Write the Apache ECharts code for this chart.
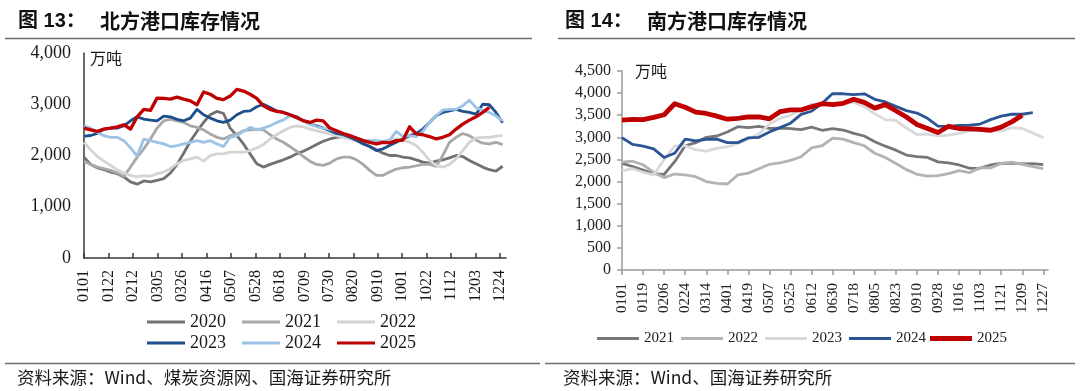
<!DOCTYPE html>
<html><head><meta charset="utf-8">
<script src="https://cdn.jsdelivr.net/npm/echarts@6/dist/echarts.min.js"></script>
<style>
html,body{margin:0;padding:0;background:#fff;width:1080px;height:391px;overflow:hidden}
#l{position:absolute;left:0;top:0;width:540px;height:391px}
#r{position:absolute;left:540px;top:0;width:540px;height:391px}
</style>
</head><body><div id="l"></div><div id="r"></div>
<script>
// ---------- Left chart: 北方港口库存 (万吨), sampled every ~5.7 days ----------
const LEFT_TICK_LABELS = ['0101','0122','0212','0305','0326','0416','0507','0528','0618','0709','0730','0820','0910','1001','1022','1112','1203','1224'];
const LEFT_Y_LABELS = ['0','1,000','2,000','3,000','4,000'];
const LEFT_SAMPLE_DAYS = 5.7;
const L2020 = [1968,1826,1760,1723,1677,1645,1581,1484,1440,1503,1484,1516,1548,1658,1826,2045,2277,2470,2645,2795,2860,2820,2535,2387,2226,2032,1839,1774,1826,1871,1916,1968,2032,2084,2148,2213,2277,2323,2355,2370,2342,2290,2240,2175,2110,2045,2000,2000,1968,1955,1916,1871,1852,1890,1916,1955,2000,1980,1903,1839,1774,1723,1697,1790];
const L2021 = [1890,1826,1774,1742,1710,1658,1594,1774,1968,2130,2323,2535,2677,2710,2677,2645,2580,2548,2500,2420,2355,2323,2387,2420,2484,2500,2516,2500,2405,2323,2258,2175,2084,1980,1890,1826,1806,1852,1935,1968,1968,1916,1826,1710,1613,1613,1677,1735,1761,1774,1800,1826,1826,1787,2000,2258,2355,2430,2387,2300,2240,2226,2258,2213];
const L2022 = [2258,2110,1980,1890,1806,1723,1658,1613,1581,1606,1594,1645,1677,1742,1839,1903,1935,1968,1890,2000,2032,2032,2065,2065,2065,2097,2148,2213,2323,2405,2484,2548,2580,2560,2516,2484,2450,2420,2387,2355,2323,2300,2290,2290,2277,2258,2290,2323,2300,2258,2194,2065,1903,1806,1774,1826,1935,2097,2258,2342,2355,2355,2380,2387];
const L2023 = [2380,2390,2430,2515,2535,2535,2580,2677,2755,2710,2690,2677,2770,2755,2705,2677,2730,2900,2795,2730,2677,2645,2690,2795,2860,2870,2950,3000,2935,2870,2840,2795,2755,2677,2613,2580,2535,2484,2430,2405,2355,2300,2226,2175,2097,2130,2194,2258,2323,2387,2430,2515,2645,2775,2840,2870,2900,2860,2840,2806,3000,2990,2840,2640];
const L2024 = [2580,2535,2450,2387,2355,2355,2290,2150,1990,2320,2290,2258,2226,2175,2194,2226,2258,2290,2258,2290,2226,2175,2355,2387,2470,2548,2500,2535,2580,2645,2690,2775,2730,2677,2613,2560,2535,2510,2484,2430,2387,2342,2300,2290,2290,2277,2300,2470,2370,2387,2370,2470,2645,2775,2885,2900,2900,2970,3080,2935,2885,2840,2775,2677];
const L2025 = [2535,2500,2470,2515,2535,2560,2600,2515,2755,2900,2880,3120,3115,3100,3140,3100,3065,2990,3240,3195,3115,3090,3160,3290,3258,3195,3115,2970,2900,2860,2840,2795,2740,2680,2645,2690,2677,2535,2484,2430,2387,2342,2290,2258,2226,2258,2245,2290,2300,2560,2420,2405,2370,2323,2355,2405,2515,2613,2690,2755,2840,2940];
const LEFT_SERIES = [
  {name:'2020', values:L2020, color:'#717171', width:2.8},
  {name:'2021', values:L2021, color:'#a8a8a8', width:2.8},
  {name:'2022', values:L2022, color:'#d4d4d4', width:2.8},
  {name:'2023', values:L2023, color:'#1f4e8c', width:2.8},
  {name:'2024', values:L2024, color:'#9cc3e6', width:2.8},
  {name:'2025', values:L2025, color:'#c00000', width:3.3}
];

// ---------- Right chart: 南方港口库存 (万吨), sampled every 9 days ----------
const RIGHT_TICK_LABELS = ['0101','0119','0206','0224','0314','0401','0419','0507','0525','0612','0630','0718','0805','0823','0910','0928','1016','1103','1121','1209','1227'];
const RIGHT_Y_LABELS = ['0','500','1,000','1,500','2,000','2,500','3,000','3,500','4,000','4,500'];
const RIGHT_SAMPLE_DAYS = 9;
const R2021 = [2410,2340,2260,2180,2160,2450,2810,2880,3000,3030,3120,3240,3220,3250,3200,3210,3195,3175,3230,3160,3198,3165,3090,3030,2900,2800,2710,2600,2565,2545,2445,2420,2375,2300,2305,2375,2410,2415,2400,2405,2385];
const R2022 = [2440,2460,2380,2210,2090,2170,2150,2110,2000,1960,1945,2150,2190,2290,2390,2420,2480,2560,2760,2810,2980,2960,2880,2810,2640,2545,2410,2270,2165,2122,2135,2180,2245,2200,2315,2310,2410,2440,2390,2340,2290];
const R2023 = [2240,2290,2210,2150,2500,2800,2810,2720,2690,2750,2790,2860,2960,3080,3300,3430,3500,3640,3750,3730,3740,3770,3790,3700,3530,3400,3385,3210,3065,3070,3032,3048,3090,3150,3170,3150,3140,3220,3200,3100,2990];
const R2024 = [2990,2840,2800,2740,2545,2640,2960,2920,2955,2960,2880,2880,2990,3000,3120,3220,3320,3520,3590,3770,3990,3985,3965,3985,3860,3800,3700,3605,3550,3430,3255,3250,3270,3273,3300,3400,3480,3522,3522,3560];
const R2025 = [3390,3405,3400,3450,3510,3760,3680,3570,3540,3480,3410,3430,3460,3460,3420,3580,3620,3620,3690,3760,3740,3770,3860,3790,3660,3740,3600,3460,3290,3200,3110,3250,3200,3190,3180,3160,3230,3350,3500];
const RIGHT_SERIES = [
  {name:'2021', values:R2021, color:'#767676', width:2.8},
  {name:'2022', values:R2022, color:'#b3b3b3', width:2.8},
  {name:'2023', values:R2023, color:'#d9d9d9', width:2.8},
  {name:'2024', values:R2024, color:'#2c5596', width:2.8},
  {name:'2025', values:R2025, color:'#c00000', width:4.8}
];

// ---------- helpers ----------
function dayOfYear(mmdd){
  const m = +mmdd.slice(0,2), d = +mmdd.slice(2);
  return Math.round((Date.UTC(2023, m-1, d) - Date.UTC(2023, 0, 1)) / 86400000);
}
const SERIF = 'Liberation Serif';

function buildSeries(list, step){
  return list.map(s => ({
    name: s.name, type:'line', symbol:'none', showSymbol:false,
    data: s.values.map((v,i) => [i*step, v]),
    lineStyle:{color:s.color, width:s.width, join:'round'},
    itemStyle:{color:s.color}, z: 2
  }));
}
function commonGraphic(title1, title2, titleX, subX, lineFrom, lineTo, bottomFrom, bottomTo, src, srcX, unitX, unitY){
  return [
    {type:'text', x:titleX, y:21, style:{text:title1, font:'bold 20px "Liberation Sans","Noto Sans CJK SC"', fill:'#111', verticalAlign:'middle'}},
    {type:'text', x:subX, y:21, style:{text:title2, font:'bold 20px "Noto Sans CJK SC"', fill:'#111', verticalAlign:'middle'}},
    {type:'line', shape:{x1:lineFrom, y1:38.5, x2:lineTo, y2:38.5}, style:{stroke:'#6e6e6e', lineWidth:1.5}},
    {type:'line', shape:{x1:bottomFrom, y1:363.5, x2:bottomTo, y2:363.5}, style:{stroke:'#6e6e6e', lineWidth:1.5}},
    {type:'text', x:srcX, y:377, style:{text:src, font:'17.5px "Noto Sans CJK SC","Liberation Sans"', fill:'#1a1a1a', verticalAlign:'middle'}},
    {type:'text', x:unitX, y:unitY, style:{text:'万吨', font:'16px "Noto Sans CJK SC"', fill:'#1a1a1a', verticalAlign:'middle'}}
  ];
}

// ---------- left chart ----------
const leftTickDays = LEFT_TICK_LABELS.map(dayOfYear);
const left = echarts.init(document.getElementById('l'));
const leftLegendBase = {left:147, padding:0, icon:'rect', itemWidth:38, itemHeight:3, itemGap:16,
  textStyle:{fontFamily:SERIF, fontSize:18, color:'#1a1a1a'}};
left.setOption({
  animation:false,
  backgroundColor:'#fff',
  grid:{left:84, top:53, width:422, height:205, containLabel:false},
  xAxis:{type:'value', min:0, max:362,
    axisLine:{show:true, onZero:false, lineStyle:{color:'#3a3a3a', width:1.5}},
    axisTick:{show:true, inside:true, length:5, customValues:leftTickDays, lineStyle:{color:'#3a3a3a', width:1.5}},
    axisLabel:{customValues:leftTickDays, rotate:90, margin:12, fontFamily:SERIF, fontSize:16, color:'#1a1a1a',
      formatter:v => LEFT_TICK_LABELS[leftTickDays.indexOf(Math.round(v))] || ''},
    splitLine:{show:false}},
  yAxis:{type:'value', min:0, max:4000, interval:1000,
    axisLine:{show:true, lineStyle:{color:'#3a3a3a', width:1.5}},
    axisTick:{show:false},
    axisLabel:{margin:13, fontFamily:SERIF, fontSize:18, color:'#1a1a1a', formatter:v => LEFT_Y_LABELS[Math.round(v/1000)]},
    splitLine:{show:false}},
  legend:[
    Object.assign({data:['2020','2021','2022'], top:313}, leftLegendBase),
    Object.assign({data:['2023','2024','2025'], top:334}, leftLegendBase)
  ],
  series: buildSeries(LEFT_SERIES, LEFT_SAMPLE_DAYS),
  graphic: commonGraphic('图 13：', '北方港口库存情况', 18, 100, 5, 532, 5, 540,
    '资料来源：Wind、煤炭资源网、国海证券研究所', 17, 90, 58)
});

// ---------- right chart ----------
const rightTickDays = RIGHT_TICK_LABELS.map(dayOfYear);
const right = echarts.init(document.getElementById('r'));
const rightLegendBase = {top:331, padding:0, icon:'rect', itemWidth:42, itemGap:7,
  textStyle:{fontFamily:SERIF, fontSize:15, color:'#222'}};
right.setOption({
  animation:false,
  backgroundColor:'#fff',
  grid:{left:82, top:71, width:426, height:199, containLabel:false},
  xAxis:{type:'value', min:0, max:364,
    axisLine:{show:true, onZero:false, lineStyle:{color:'#9a9a9a', width:1.5}},
    axisTick:{show:true, inside:false, length:5, customValues:rightTickDays, lineStyle:{color:'#9a9a9a', width:1.5}},
    axisLabel:{customValues:rightTickDays, rotate:90, margin:13, fontFamily:SERIF, fontSize:15, color:'#222',
      formatter:v => RIGHT_TICK_LABELS[rightTickDays.indexOf(Math.round(v))] || ''},
    splitLine:{show:false}},
  yAxis:{type:'value', min:0, max:4500, interval:500,
    axisLine:{show:true, lineStyle:{color:'#9a9a9a', width:1.5}},
    axisTick:{show:true, inside:false, length:5, lineStyle:{color:'#9a9a9a', width:1.5}},
    axisLabel:{margin:11, fontFamily:SERIF, fontSize:16, color:'#222', formatter:v => RIGHT_Y_LABELS[Math.round(v/500)]},
    splitLine:{show:false}},
  legend:[
    Object.assign({data:['2021','2022','2023','2024'], left:57, itemHeight:3}, rightLegendBase),
    Object.assign({data:['2025'], left:390, itemHeight:5}, rightLegendBase)
  ],
  series: buildSeries(RIGHT_SERIES, RIGHT_SAMPLE_DAYS),
  graphic: commonGraphic('图 14：', '南方港口库存情况', 25, 107, 18, 535, 5, 535,
    '资料来源：Wind、国海证券研究所', 23, 95, 71)
});
</script>
</body></html>
